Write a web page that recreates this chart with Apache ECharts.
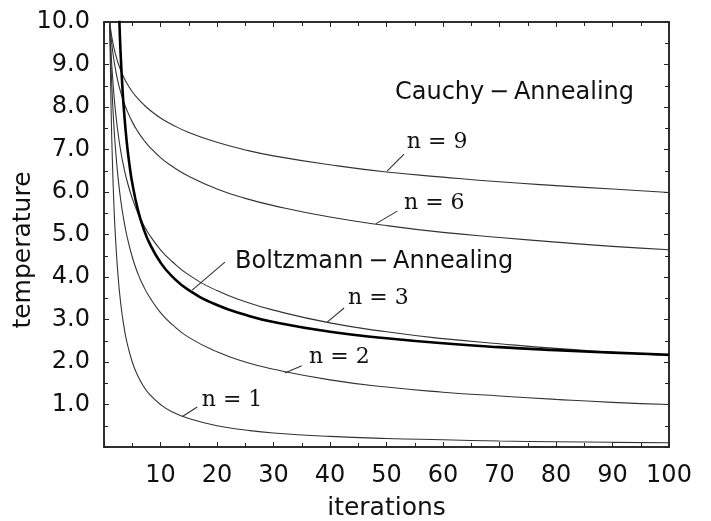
<!DOCTYPE html>
<html>
<head>
<meta charset="utf-8">
<script src="https://cdn.jsdelivr.net/npm/echarts@6/dist/echarts.min.js"></script>
<style>html,body{margin:0;padding:0;background:#fff;}#c{width:711px;height:521px;}</style>
</head>
<body>
<div id="c"></div>
<script>
// Cauchy annealing curves (x = iterations)
const cauchyX = [1, 1.25, 1.5, 1.75, 2, 2.5, 3, 3.5, 4, 5, 6, 7, 8, 10, 12, 15, 20, 25, 30, 40, 50, 60, 70, 80, 90, 100];
const cauchyN1 = [10, 8.0, 6.67, 5.71, 5.0, 4.0, 3.33, 2.86, 2.5, 2.0, 1.67, 1.43, 1.25, 1.0, 0.83, 0.67, 0.5, 0.4, 0.33, 0.25, 0.2, 0.17, 0.14, 0.125, 0.11, 0.1];
const cauchyN2 = [10, 8.94, 8.16, 7.56, 7.07, 6.32, 5.77, 5.35, 5.0, 4.47, 4.08, 3.78, 3.54, 3.16, 2.89, 2.58, 2.24, 2.0, 1.83, 1.58, 1.41, 1.29, 1.20, 1.12, 1.05, 1.0];
const cauchyN3 = [10, 9.28, 8.74, 8.30, 7.94, 7.37, 6.93, 6.59, 6.30, 5.85, 5.50, 5.23, 5.0, 4.64, 4.37, 4.05, 3.68, 3.42, 3.22, 2.92, 2.71, 2.55, 2.43, 2.32, 2.23, 2.15];
const cauchyN6 = [10, 9.64, 9.35, 9.11, 8.91, 8.58, 8.33, 8.12, 7.94, 7.65, 7.42, 7.23, 7.07, 6.81, 6.61, 6.37, 6.07, 5.85, 5.68, 5.41, 5.21, 5.05, 4.93, 4.82, 4.72, 4.64];
const cauchyN9 = [10, 9.76, 9.56, 9.40, 9.26, 9.03, 8.85, 8.70, 8.57, 8.36, 8.20, 8.06, 7.94, 7.74, 7.59, 7.40, 7.17, 6.99, 6.85, 6.64, 6.47, 6.35, 6.24, 6.15, 6.07, 5.99];
// Boltzmann annealing curve
const boltzX = [2.6, 2.8, 3, 3.25, 3.5, 4, 4.5, 5, 6, 7, 8, 10, 12, 15, 20, 25, 30, 40, 50, 60, 70, 80, 90, 100];
const boltzY = [10.47, 9.71, 9.10, 8.48, 7.98, 7.21, 6.65, 6.21, 5.58, 5.14, 4.81, 4.34, 4.02, 3.69, 3.34, 3.11, 2.94, 2.71, 2.56, 2.44, 2.35, 2.28, 2.22, 2.17];
// Axis ticks
const xTicks = [10, 20, 30, 40, 50, 60, 70, 80, 90, 100];
const yTicks = [1, 2, 3, 4, 5, 6, 7, 8, 9, 10];
// Annotations (data coordinates): leader from -> to, text anchor (left, middle)
const annotations = [
  {text: 'n = 1', from: [13.8, 0.71], to: [16.5, 0.94], at: [17.3, 1.11], serif: true},
  {text: 'n = 2', from: [32.0, 1.74], to: [35.0, 1.91], at: [36.3, 2.12], serif: true},
  {text: 'n = 3', from: [39.5, 2.94], to: [42.5, 3.27], at: [43.2, 3.51], serif: true},
  {text: 'n = 6', from: [48.1, 5.25], to: [51.9, 5.55], at: [53.1, 5.74], serif: true},
  {text: 'n = 9', from: [50.1, 6.49], to: [53.1, 6.89], at: [53.6, 7.18], serif: true},
  {text: 'Boltzmann\u2009\u2212\u2009Annealing', from: [15.6, 3.69], to: [21.4, 4.35], at: [23.2, 4.35], serif: false},
  {text: 'Cauchy\u2009\u2212\u2009Annealing', from: null, to: null, at: [51.5, 8.33], serif: false}
];

const pairs = (xs, ys) => xs.map((x, i) => [x, ys[i]]);
const thin = {color: '#333', width: 1.1};
const mkThin = (name, ys) => ({
  name, type: 'line', data: pairs(cauchyX, ys), showSymbol: false, smooth: 0.5,
  lineStyle: thin, xAxisIndex: 0, yAxisIndex: 0, silent: true
});
const sans = 'DejaVu Sans';
const chart = echarts.init(document.getElementById('c'));
const tickStyle = {inside: true, length: 5, lineStyle: {color: '#222', width: 1}};
const minorStyle = {show: true, splitNumber: 2, length: 4, lineStyle: {color: '#222', width: 1}};
chart.setOption({
  animation: false,
  backgroundColor: '#fff',
  grid: {left: 104, right: 42, top: 22, bottom: 74, show: true, borderColor: '#222', borderWidth: 1.5,
         containLabel: false, outerBoundsMode: 'none'},
  xAxis: [
    {type: 'value', min: 0, max: 100, interval: 10, position: 'bottom',
     axisLine: {show: true, onZero: false, lineStyle: {color: '#222', width: 1.5}},
     axisTick: tickStyle, minorTick: minorStyle, splitLine: {show: false},
     axisLabel: {margin: 17, color: '#111', fontFamily: sans, fontSize: 24,
       formatter: v => xTicks.includes(v) ? String(v) : ''},
     name: 'iterations', nameLocation: 'middle', nameGap: 49,
     nameTextStyle: {fontFamily: sans, fontSize: 25, color: '#111'}},
    {type: 'value', min: 0, max: 100, interval: 10, position: 'top',
     axisLine: {show: true, onZero: false, lineStyle: {color: '#222', width: 1.5}},
     axisTick: tickStyle, minorTick: minorStyle, splitLine: {show: false}, axisLabel: {show: false}}
  ],
  yAxis: [
    {type: 'value', min: 0, max: 10, interval: 1, position: 'left',
     axisLine: {show: true, onZero: false, lineStyle: {color: '#222', width: 1.5}},
     axisTick: tickStyle, minorTick: minorStyle, splitLine: {show: false},
     axisLabel: {margin: 14, color: '#111', fontFamily: sans, fontSize: 24,
       formatter: v => yTicks.includes(v) ? v.toFixed(1) : ''},
     name: 'temperature', nameLocation: 'middle', nameGap: 68, nameMoveOverlap: false,
     nameTextStyle: {fontFamily: sans, fontSize: 25, color: '#111', padding: [0, 31, 0, 0]}},
    {type: 'value', min: 0, max: 10, interval: 1, position: 'right',
     axisLine: {show: true, onZero: false, lineStyle: {color: '#222', width: 1.5}},
     axisTick: tickStyle, minorTick: minorStyle, splitLine: {show: false}, axisLabel: {show: false}}
  ],
  series: [
    mkThin('n = 1', cauchyN1),
    mkThin('n = 2', cauchyN2),
    mkThin('n = 3', cauchyN3),
    mkThin('n = 6', cauchyN6),
    mkThin('n = 9', cauchyN9),
    {name: 'Boltzmann', type: 'line', data: pairs(boltzX, boltzY), showSymbol: false, smooth: 0.5,
     lineStyle: {color: '#000', width: 2.6}, clip: true, silent: true}
  ]
});

const px = p => chart.convertToPixel({gridIndex: 0}, p);
const elements = [];
annotations.forEach(a => {
  if (a.from) {
    const f = px(a.from), t = px(a.to);
    elements.push({type: 'line', shape: {x1: f[0], y1: f[1], x2: t[0], y2: t[1]},
      style: {stroke: '#333', lineWidth: 1.1}, silent: true});
  }
  const p = px(a.at);
  elements.push({type: 'text', x: p[0], y: p[1], silent: true,
    style: {text: a.text, fill: '#111', align: 'left', verticalAlign: 'middle',
      font: a.serif ? '22px "DejaVu Serif"' : '24px "DejaVu Sans"'}});
});
chart.setOption({graphic: {elements}});
</script>
</body>
</html>
